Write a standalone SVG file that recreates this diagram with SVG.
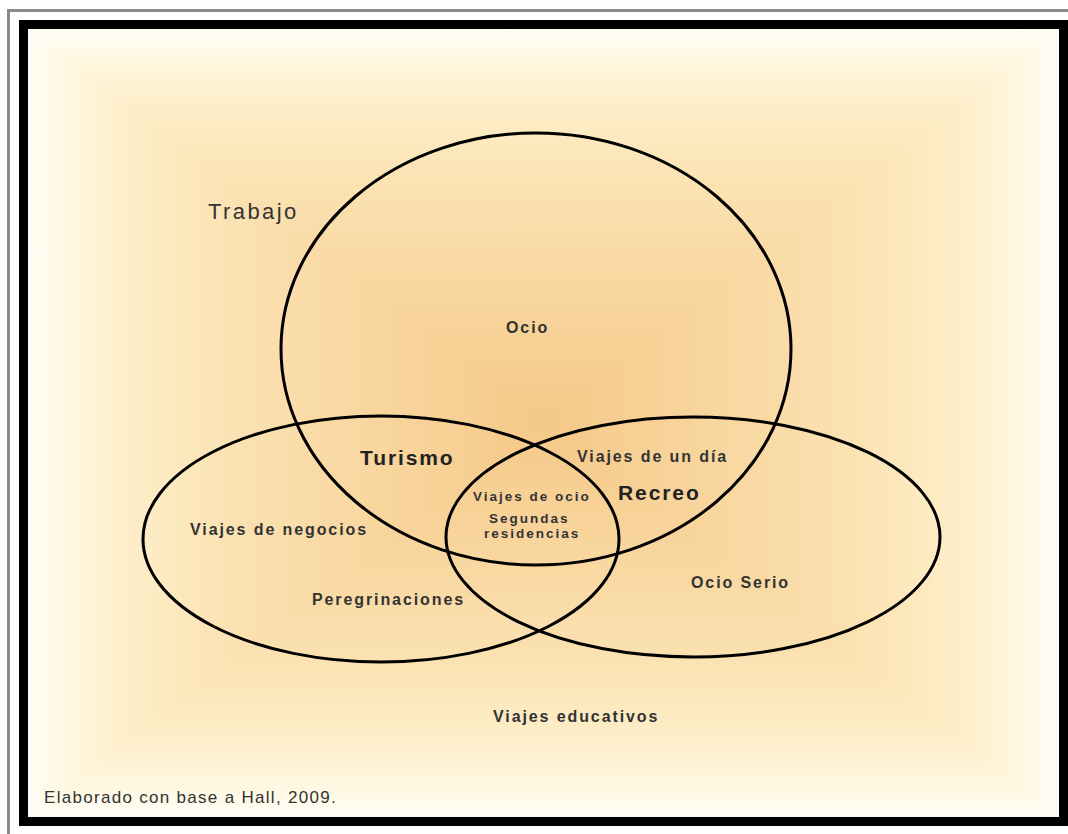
<svg xmlns="http://www.w3.org/2000/svg" width="1068" height="834" viewBox="0 0 1068 834">
  <defs>
    <linearGradient id="gx" gradientUnits="userSpaceOnUse" x1="28" y1="0" x2="1059" y2="0">
      <stop offset="0" stop-color="#FFFDF6"/>
      <stop offset="0.04" stop-color="#FFF7E0"/>
      <stop offset="0.1" stop-color="#FDEEC8"/>
      <stop offset="0.2" stop-color="#FBE2B2"/>
      <stop offset="0.3" stop-color="#F9D9A3"/>
      <stop offset="0.4" stop-color="#F7D196"/>
      <stop offset="0.5" stop-color="#F5C888"/>
      <stop offset="0.6" stop-color="#F7D196"/>
      <stop offset="0.7" stop-color="#F9D9A3"/>
      <stop offset="0.8" stop-color="#FBE2B2"/>
      <stop offset="0.9" stop-color="#FDEEC8"/>
      <stop offset="0.96" stop-color="#FFF7E0"/>
      <stop offset="1" stop-color="#FFFDF6"/>
    </linearGradient>
    <linearGradient id="gy" gradientUnits="userSpaceOnUse" x1="0" y1="29" x2="0" y2="817">
      <stop offset="0" stop-color="#FFFDF6"/>
      <stop offset="0.04" stop-color="#FFF7E0"/>
      <stop offset="0.1" stop-color="#FDEEC8"/>
      <stop offset="0.2" stop-color="#FBE2B2"/>
      <stop offset="0.3" stop-color="#F9D9A3"/>
      <stop offset="0.4" stop-color="#F7D196"/>
      <stop offset="0.5" stop-color="#F5C888"/>
      <stop offset="0.6" stop-color="#F7D196"/>
      <stop offset="0.7" stop-color="#F9D9A3"/>
      <stop offset="0.8" stop-color="#FBE2B2"/>
      <stop offset="0.9" stop-color="#FDEEC8"/>
      <stop offset="0.96" stop-color="#FFF7E0"/>
      <stop offset="1" stop-color="#FFFDF6"/>
    </linearGradient>
  </defs>
  <style>
    .ring { fill: none; stroke: #000; stroke-width: 3; }
    .lbl { font-family: "Liberation Sans", Arial, sans-serif; font-weight: bold; font-size: 16px; fill: #333; letter-spacing: 1.9px; }
    .big { font-size: 21px; fill: #222; }
    .small { font-size: 13.5px; letter-spacing: 2px; }
    .plain { font-family: "Liberation Sans", Arial, sans-serif; font-weight: normal; fill: #333; }
  </style>

  <!-- page and frames -->
  <rect x="0" y="0" width="1068" height="834" fill="#fff"/>
  <rect x="8.5" y="10.5" width="1100" height="900" fill="#fff" stroke="#8a8a8a" stroke-width="3"/>
  <g style="isolation:isolate">
    <rect x="28" y="29" width="1031" height="788" fill="url(#gx)"/>
    <rect x="28" y="29" width="1031" height="788" fill="url(#gy)" style="mix-blend-mode:lighten"/>
  </g>
  <rect x="23.5" y="24.5" width="1040" height="797" fill="none" stroke="#000" stroke-width="9"/>

  <!-- nodes -->
  <g id="ocio">
    <ellipse class="ring" cx="536" cy="349" rx="255" ry="216"/>
  </g>
  <g id="turismo">
    <ellipse class="ring" cx="381" cy="539" rx="238" ry="123"/>
  </g>
  <g id="recreo">
    <ellipse class="ring" cx="693" cy="537" rx="247" ry="120"/>
  </g>

  <g id="labels">
    <text class="plain" x="208" y="219" font-size="22" letter-spacing="2.4">Trabajo</text>
    <text class="lbl" x="506" y="333">Ocio</text>
    <text class="lbl big" x="360" y="465" letter-spacing="0.6">Turismo</text>
    <text class="lbl" x="577" y="462" letter-spacing="1.6">Viajes de un día</text>
    <text class="lbl big" x="618" y="500" letter-spacing="1.5">Recreo</text>
    <text class="lbl small" x="473" y="501" letter-spacing="1.7">Viajes de ocio</text>
    <text class="lbl small" x="489" y="523">Segundas</text>
    <text class="lbl small" x="484" y="538">residencias</text>
    <text class="lbl" x="190" y="535">Viajes de negocios</text>
    <text class="lbl" x="312" y="605">Peregrinaciones</text>
    <text class="lbl" x="691" y="588" letter-spacing="1.8">Ocio Serio</text>
    <text class="lbl" x="493" y="722" letter-spacing="1.8">Viajes educativos</text>
    <text class="plain" x="44" y="803" font-size="17" letter-spacing="1.3">Elaborado con base a Hall, 2009.</text>
  </g>
</svg>
